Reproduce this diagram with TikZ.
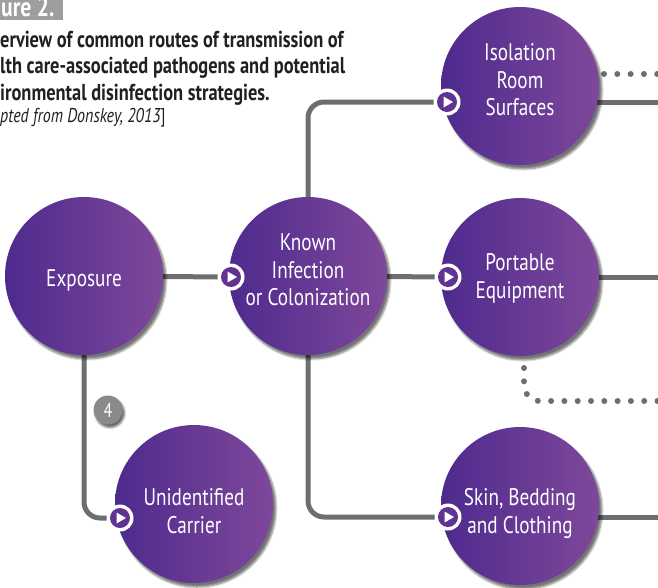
\documentclass[tikz,border=0pt]{standalone}
\usepackage{fontspec}
\setmainfont{PT Sans}[FakeStretch=0.8]
\usetikzlibrary{shadows.blur}
\definecolor{pdark}{RGB}{78,42,142}
\definecolor{plight}{RGB}{126,72,154}
\definecolor{pmid}{RGB}{96,50,146}
\definecolor{lgray}{RGB}{109,110,113}
\definecolor{tgray}{RGB}{35,31,32}
\definecolor{bgray}{RGB}{158,158,158}
\definecolor{badgegray}{RGB}{138,138,140}
\newcommand\bubtext[2]{\raisebox{#1}[0pt][0pt]{\begin{tabular}{@{}c@{}}#2\end{tabular}}}
\begin{document}
\begin{tikzpicture}[x=1pt,y=-1pt,
  bubble/.style={circle, minimum size=158pt, inner sep=0pt, left color=pdark, right color=plight,
    text=white, font=\fontsize{24}{27.5}\selectfont,
    blur shadow={shadow xshift=3pt, shadow yshift=-4pt, shadow blur steps=6, shadow opacity=55}},
  conn/.style={draw=lgray, line width=5pt, rounded corners=16pt},
  dotline/.style={draw=lgray, line width=6pt, line cap=round, dash pattern=on 0pt off 13.3pt, rounded corners=16pt},
  badge/.style={circle, minimum size=29pt, inner sep=0pt, fill=badgegray, text=white,
    font=\fontsize{20}{20}\selectfont,
    blur shadow={shadow xshift=2pt, shadow yshift=-3pt, shadow blur steps=4, shadow opacity=60}},
  capline/.style={anchor=base west, inner sep=0pt, text=tgray, font=\bfseries\fontsize{23}{23}\selectfont},
  playmark/.pic={
    \fill[white] (0,0) circle (13.5);
    \fill[pmid] (0,0) circle (10);
    \fill[white] (-3.5,-5.5) -- (6,0) -- (-3.5,5.5) -- cycle;
  }
]
\useasboundingbox (0,0) rectangle (658,587);

% title
\fill[bgray] (0,0) rectangle (63,20);
\node[anchor=base west, inner sep=0pt, text=white, font=\bfseries\fontsize{27}{27}\selectfont] (fig) at (1,16.5) {ure 2.};
\node[capline] (cap1) at (0,47) {erview of common routes of transmission of};
\node[capline] (cap2) at (0,73.5) {lth care-associated pathogens and potential};
\node[capline] (cap3) at (0,100) {ironmental disinfection strategies.};
\node[anchor=base west, inner sep=0pt, text=tgray, font=\fontsize{20}{20}\selectfont] (src) at (0,122) {\itshape pted from Donskey, 2013\upshape]};

% marker coordinates
\coordinate (mKnown) at (231,277);
\coordinate (mIso) at (447,102);
\coordinate (mPort) at (448,277);
\coordinate (mSkin) at (448,517);
\coordinate (mUnid) at (120,518);
\coordinate (rIso) at (660,102);
\coordinate (rPort) at (660,277);
\coordinate (rSkin) at (660,517);
\coordinate (dIsoA) at (604,74);
\coordinate (dIsoB) at (662,74);
\coordinate (dPortA) at (524,368);
\coordinate (dPortC) at (524,401);
\coordinate (dPortB) at (662,401);

% bubble positions
\coordinate (pExp) at (84,276);
\coordinate (pKnown) at (308,276);
\coordinate (pIso) at (520,86);
\coordinate (pPort) at (520,277);
\coordinate (pSkin) at (520,506);
\coordinate (pUnid) at (194,504);

% connectors (behind bubbles)
\draw[conn] (pExp) -- (mKnown);
\draw[conn] (pKnown) |- (mIso);
\draw[conn] (pKnown) -- (mPort);
\draw[conn] (pKnown) |- (mSkin);
\draw[conn] (pExp) |- (mUnid);
\draw[conn] (mIso) -- (rIso);
\draw[conn] (mPort) -- (rPort);
\draw[conn] (mSkin) -- (rSkin);
\draw[dotline] (dIsoA) -- (dIsoB);
\draw[dotline] (dPortA) -- (dPortC) -- (dPortB);

% bubbles
\node[bubble] (exp) at (pExp) {\bubtext{-11pt}{Exposure}};
\node[bubble] (known) at (pKnown) {\bubtext{-3pt}{Known\\Infection\\or Colonization}};
\node[bubble] (iso) at (pIso) {\bubtext{-3pt}{Isolation\\Room\\Surfaces}};
\node[bubble] (port) at (pPort) {\bubtext{-8pt}{Portable\\Equipment}};
\node[bubble] (skin) at (pSkin) {\bubtext{-14pt}{Skin, Bedding\\and Clothing}};
\node[bubble] (unid) at (pUnid) {\bubtext{-16pt}{Unidentified\\Carrier}};

% badge
\node[badge] (b4) at (108,410) {4};

% markers
\pic at (mKnown) {playmark};
\pic at (mIso) {playmark};
\pic at (mPort) {playmark};
\pic at (mSkin) {playmark};
\pic at (mUnid) {playmark};
\end{tikzpicture}
\end{document}
